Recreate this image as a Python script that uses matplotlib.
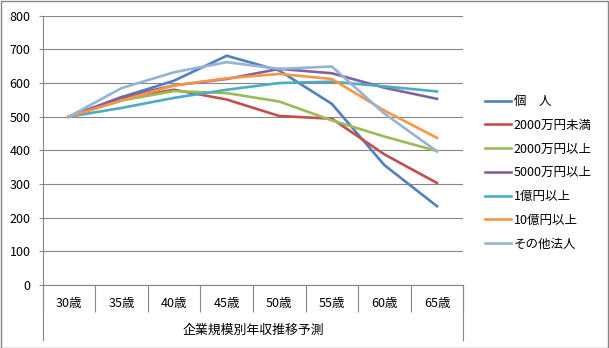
import matplotlib.pyplot as plt
from matplotlib.patches import Rectangle

plt.rcParams['font.family'] = ['Noto Sans CJK JP', 'DejaVu Sans']

ages = ['30歳', '35歳', '40歳', '45歳', '50歳', '55歳', '60歳', '65歳']
kojin = [500, 558, 607, 681, 637, 538, 356, 234]
under_2000 = [500, 553, 580, 551, 502, 494, 388, 303]
over_2000 = [500, 548, 576, 570, 545, 489, 441, 398]
over_5000 = [500, 558, 593, 612, 642, 629, 586, 553]
over_1oku = [500, 526, 556, 580, 600, 604, 590, 575]
over_10oku = [500, 548, 593, 614, 627, 612, 518, 437]
sonota = [500, 585, 632, 662, 642, 649, 509, 397]

series = [
    ('個\u3000人', kojin, '#4F81BD'),
    ('2000万円未満', under_2000, '#C0504D'),
    ('2000万円以上', over_2000, '#9BBB59'),
    ('5000万円以上', over_5000, '#8064A2'),
    ('1億円以上', over_1oku, '#4BACC6'),
    ('10億円以上', over_10oku, '#F79646'),
    ('その他法人', sonota, '#95B3D7'),
]

W, H = 609, 348
fig = plt.figure(figsize=(W / 100, H / 100), dpi=100)
# plot area in pixel coords
left, right, top, bottom = 42.7, 463.3, 15.7, 285
ax = fig.add_axes([left / W, 1 - bottom / H, (right - left) / W, (bottom - top) / H])

x = list(range(len(ages)))
for name, vals, col in series:
    ax.plot(x, vals, color=col, lw=1.9, label=name, solid_joinstyle='round')

ax.set_xlim(-0.5, len(ages) - 0.5)
ax.set_ylim(0, 800)
ax.set_yticks(range(0, 801, 100))
ax.grid(axis='y', color='#868686', lw=0.8)
ax.set_axisbelow(True)
for s in ['top', 'right']:
    ax.spines[s].set_visible(False)
for s in ['left', 'bottom']:
    ax.spines[s].set_color('#868686')
    ax.spines[s].set_linewidth(0.8)

# category boundaries as long major ticks, labels on minor ticks
ax.set_xticks([i - 0.5 for i in range(len(ages) + 1)])
ax.set_xticklabels([])
ax.set_xticks(x, minor=True)
ax.set_xticklabels(ages, minor=True)
ax.tick_params(axis='x', which='major', length=19.5, color='#868686', width=0.8)
ax.tick_params(axis='x', which='minor', length=0, pad=9, labelsize=9)
ax.tick_params(axis='y', length=2.8, color='#868686', width=0.8, pad=6, labelsize=9)

# outer lines of the category box
tr = ax.get_xaxis_transform()
for xv in [-0.5, len(ages) - 0.5]:
    ax.plot([xv, xv], [0, -(340 - bottom) / (bottom - top)], transform=tr,
            color='#868686', lw=0.8, clip_on=False)

fig.text((left + right) / 2 / W, 1 - 330 / H, '企業規模別年収推移予測',
         ha='center', va='center', fontsize=9.3)

fig.legend(loc='upper left', bbox_to_anchor=(480 / W, 1 - 90 / H), frameon=False,
           fontsize=9, handlelength=2.1, handletextpad=0.2, labelspacing=0.86,
           borderaxespad=0)

fig.patches.append(Rectangle((0.5 / W, 0.5 / H), 1 - 1.5 / W, 1 - 1.5 / H,
                             transform=fig.transFigure, fill=False,
                             edgecolor='#868686', lw=1))

fig.savefig('out.png', dpi=100)
